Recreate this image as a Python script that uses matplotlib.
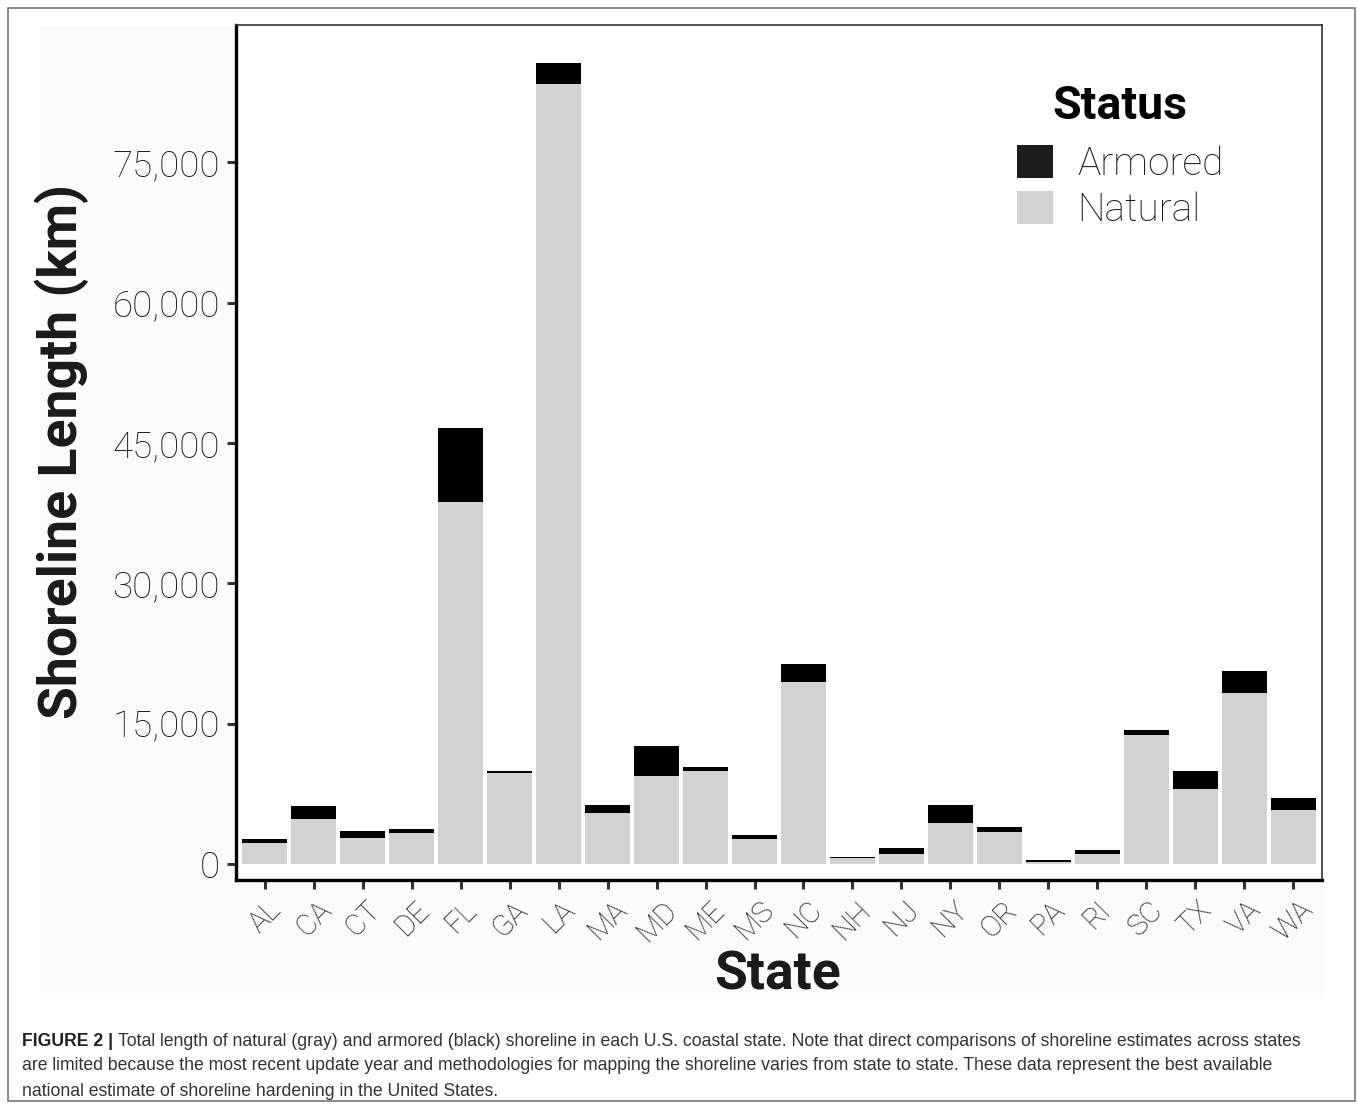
import numpy as np
import matplotlib
matplotlib.use('Agg')
import matplotlib.pyplot as plt
from matplotlib import font_manager
from matplotlib.patches import Rectangle, Patch

# shoreline length (km) per coastal state
states = ['AL', 'CA', 'CT', 'DE', 'FL', 'GA', 'LA', 'MA', 'MD', 'ME', 'MS',
          'NC', 'NH', 'NJ', 'NY', 'OR', 'PA', 'RI', 'SC', 'TX', 'VA', 'WA']
natural = [2250, 4850, 2740, 3320, 38730, 9740, 83390, 5460, 9450, 9980, 2675,
           19510, 600, 1070, 4390, 3420, 170, 1100, 13800, 7980, 18300, 5810]
armored = [370, 1390, 790, 430, 7880, 210, 2240, 850, 3210, 430, 430,
           1920, 150, 675, 1955, 540, 290, 430, 500, 2000, 2310, 1250]
yticks = [0, 15000, 30000, 45000, 60000, 75000]

caption_bold = 'FIGURE 2 |'
caption_lines = [
    'Total length of natural (gray) and armored (black) shoreline in each U.S. coastal state. '
    'Note that direct comparisons of shoreline estimates across states',
    'are limited because the most recent update year and methodologies for mapping the shoreline '
    'varies from state to state. These data represent the best available',
    'national estimate of shoreline hardening in the United States.',
]

W, H = 1358, 1107
GRAY = '#d1d2d1'
FONT = 'Roboto'

names = {f.name for f in font_manager.fontManager.ttflist}
cap_font = 'Liberation Sans Narrow' if 'Liberation Sans Narrow' in names else 'Liberation Sans'

fig = plt.figure(figsize=(W / 100, H / 100), dpi=100)
fig.patch.set_facecolor('white')

# outer frame and plot background
fig.patches.append(Rectangle((8 / W, 1 - 1101 / H), 1347 / W, 1093 / H, transform=fig.transFigure,
                             fill=False, edgecolor='#777777', lw=1.2, zorder=-10))
fig.patches.append(Rectangle((40 / W, 1 - 995 / H), 1284 / W, 970 / H, transform=fig.transFigure,
                             facecolor='#fbfbfb', edgecolor='none', zorder=-10))

ax = fig.add_axes([236 / W, 1 - 880 / H, (1322 - 236) / W, (880 - 25) / H])
ax.set_zorder(1)
ax.set_facecolor('white')

x = np.arange(1, len(states) + 1)
ax.bar(x, natural, width=0.92, color=GRAY, label='Natural')
ax.bar(x, armored, bottom=natural, width=0.92, color='black', label='Armored')

ax.set_xlim(0.41, len(states) + 0.59)
ax.set_ylim(-1710, 89700)

ax.set_yticks(yticks)
ax.set_yticklabels([f'{v:,}' for v in yticks], fontfamily=FONT, fontweight='light',
                   fontsize=26.5, color='#1e1e1e')
ax.set_xticks(x)
ax.set_xticklabels(states, rotation=45, ha='center', va='top', fontfamily=FONT,
                   fontweight='light', fontsize=21, color='#1e1e1e')
ax.tick_params(axis='both', length=6.5, width=2.2, color='#333333', pad=5)

for side in ['left', 'bottom']:
    ax.spines[side].set_linewidth(2.4)
    ax.spines[side].set_color('black')
for side in ['top', 'right']:
    ax.spines[side].set_linewidth(1.2)
    ax.spines[side].set_color('#333333')

fig.text(62 / W, 1 - 452 / H, 'Shoreline Length (km)', rotation=90, ha='center', va='center',
         fontfamily=FONT, fontweight='bold', fontsize=38.5, color='#1a1a1a')
fig.text(777 / W, 1 - 975 / H, 'State', ha='center', va='center',
         fontfamily=FONT, fontweight='bold', fontsize=38.5, color='#1a1a1a')

handles = [Patch(facecolor='#1c1c1c'), Patch(facecolor=GRAY)]
leg = ax.legend(handles, ['Armored', 'Natural'], title='Status', loc='upper left',
                bbox_to_anchor=(1017 / W, 1 - 84 / H), bbox_transform=fig.transFigure,
                frameon=False, borderpad=0, borderaxespad=0, handlelength=0.93,
                handleheight=0.93, handletextpad=0.62, labelspacing=0.22,
                prop={'family': FONT, 'weight': 'light', 'size': 28},
                title_fontproperties={'family': FONT, 'weight': 'bold', 'size': 33.5})
leg._legend_box.sep = 12
for t in leg.get_texts():
    t.set_color('#1a1a1a')

# caption: shrink the font until the first line fits the reference width
cap_size = 13.5
bold = fig.text(22 / W, 1 - 1041 / H, caption_bold, fontfamily=cap_font, fontweight='bold',
                fontsize=cap_size, color='#222222', va='center')
first = fig.text(0, 1 - 1041 / H, caption_lines[0], fontfamily=cap_font,
                 fontsize=cap_size, color='#333333', va='center')
renderer = fig.canvas.get_renderer()
total = bold.get_window_extent(renderer).width + 5 + first.get_window_extent(renderer).width
cap_size = cap_size * 1276 / total
bold.set_fontsize(cap_size)
first.set_fontsize(cap_size)
bb = bold.get_window_extent(renderer)
first.set_x((bb.x1 + 5) / W)
fig.text(22 / W, 1 - 1066 / H, caption_lines[1], fontfamily=cap_font, fontsize=cap_size,
         color='#333333', va='center')
fig.text(22 / W, 1 - 1091 / H, caption_lines[2], fontfamily=cap_font, fontsize=cap_size,
         color='#333333', va='center')

fig.savefig('out.png', dpi=100)
